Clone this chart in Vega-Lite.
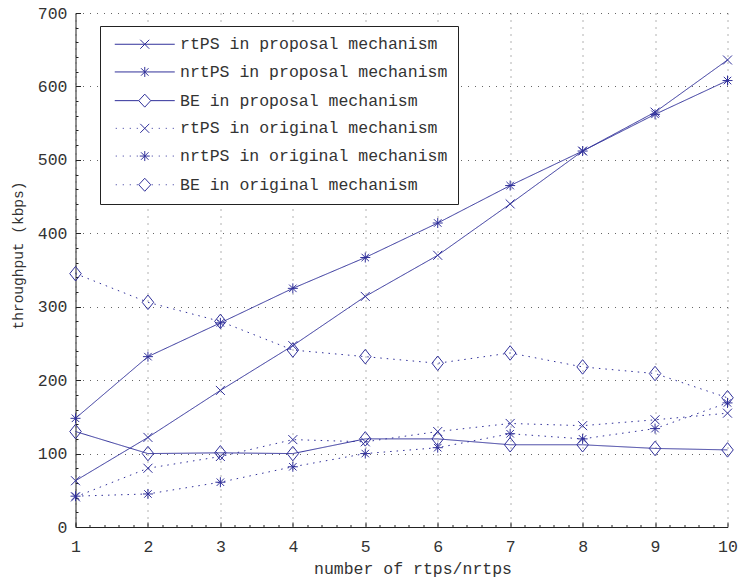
{
  "$schema": "https://vega.github.io/schema/vega-lite/v6.json",
  "width": 652,
  "height": 514,
  "autosize": {"type": "none"},
  "padding": {"left": 75.5, "top": 13, "right": 11.5, "bottom": 56},
  "background": "white",
  "config": {
    "view": {"stroke": null},
    "font": "Liberation Mono",
    "axis": {
      "labelFont": "Liberation Mono",
      "labelFontSize": 16.5,
      "labelColor": "#333333",
      "titleFont": "Liberation Mono",
      "titleFontSize": 16.5,
      "titleFontWeight": "normal",
      "titleColor": "#333333",
      "domainColor": "#222222",
      "tickColor": "#222222",
      "gridColor": "#666666",
      "gridDash": [1, 6],
      "labelOverlap": false,
      "labelFlush": false
    }
  },
  "data": {
    "values": [
      {"x": 1, "y": 63, "s": "rtPS in proposal mechanism"},
      {"x": 2, "y": 122, "s": "rtPS in proposal mechanism"},
      {"x": 3, "y": 186, "s": "rtPS in proposal mechanism"},
      {"x": 4, "y": 247, "s": "rtPS in proposal mechanism"},
      {"x": 5, "y": 314, "s": "rtPS in proposal mechanism"},
      {"x": 6, "y": 370, "s": "rtPS in proposal mechanism"},
      {"x": 7, "y": 440, "s": "rtPS in proposal mechanism"},
      {"x": 8, "y": 512, "s": "rtPS in proposal mechanism"},
      {"x": 9, "y": 565, "s": "rtPS in proposal mechanism"},
      {"x": 10, "y": 636, "s": "rtPS in proposal mechanism"},
      {"x": 1, "y": 148, "s": "nrtPS in proposal mechanism"},
      {"x": 2, "y": 232, "s": "nrtPS in proposal mechanism"},
      {"x": 3, "y": 278, "s": "nrtPS in proposal mechanism"},
      {"x": 4, "y": 325, "s": "nrtPS in proposal mechanism"},
      {"x": 5, "y": 367, "s": "nrtPS in proposal mechanism"},
      {"x": 6, "y": 414, "s": "nrtPS in proposal mechanism"},
      {"x": 7, "y": 465, "s": "nrtPS in proposal mechanism"},
      {"x": 8, "y": 512, "s": "nrtPS in proposal mechanism"},
      {"x": 9, "y": 562, "s": "nrtPS in proposal mechanism"},
      {"x": 10, "y": 608, "s": "nrtPS in proposal mechanism"},
      {"x": 1, "y": 130, "s": "BE in proposal mechanism"},
      {"x": 2, "y": 100, "s": "BE in proposal mechanism"},
      {"x": 3, "y": 101, "s": "BE in proposal mechanism"},
      {"x": 4, "y": 100, "s": "BE in proposal mechanism"},
      {"x": 5, "y": 120, "s": "BE in proposal mechanism"},
      {"x": 6, "y": 120, "s": "BE in proposal mechanism"},
      {"x": 7, "y": 112, "s": "BE in proposal mechanism"},
      {"x": 8, "y": 112, "s": "BE in proposal mechanism"},
      {"x": 9, "y": 107, "s": "BE in proposal mechanism"},
      {"x": 10, "y": 105, "s": "BE in proposal mechanism"},
      {"x": 1, "y": 41, "s": "rtPS in original mechanism"},
      {"x": 2, "y": 80, "s": "rtPS in original mechanism"},
      {"x": 3, "y": 96, "s": "rtPS in original mechanism"},
      {"x": 4, "y": 119, "s": "rtPS in original mechanism"},
      {"x": 5, "y": 116, "s": "rtPS in original mechanism"},
      {"x": 6, "y": 130, "s": "rtPS in original mechanism"},
      {"x": 7, "y": 141, "s": "rtPS in original mechanism"},
      {"x": 8, "y": 138, "s": "rtPS in original mechanism"},
      {"x": 9, "y": 146, "s": "rtPS in original mechanism"},
      {"x": 10, "y": 155, "s": "rtPS in original mechanism"},
      {"x": 1, "y": 42, "s": "nrtPS in original mechanism"},
      {"x": 2, "y": 45, "s": "nrtPS in original mechanism"},
      {"x": 3, "y": 61, "s": "nrtPS in original mechanism"},
      {"x": 4, "y": 82, "s": "nrtPS in original mechanism"},
      {"x": 5, "y": 100, "s": "nrtPS in original mechanism"},
      {"x": 6, "y": 108, "s": "nrtPS in original mechanism"},
      {"x": 7, "y": 127, "s": "nrtPS in original mechanism"},
      {"x": 8, "y": 120, "s": "nrtPS in original mechanism"},
      {"x": 9, "y": 134, "s": "nrtPS in original mechanism"},
      {"x": 10, "y": 169, "s": "nrtPS in original mechanism"},
      {"x": 1, "y": 345, "s": "BE in original mechanism"},
      {"x": 2, "y": 306, "s": "BE in original mechanism"},
      {"x": 3, "y": 280, "s": "BE in original mechanism"},
      {"x": 4, "y": 241, "s": "BE in original mechanism"},
      {"x": 5, "y": 232, "s": "BE in original mechanism"},
      {"x": 6, "y": 223, "s": "BE in original mechanism"},
      {"x": 7, "y": 237, "s": "BE in original mechanism"},
      {"x": 8, "y": 218, "s": "BE in original mechanism"},
      {"x": 9, "y": 209, "s": "BE in original mechanism"},
      {"x": 10, "y": 176, "s": "BE in original mechanism"}
    ]
  },
  "encoding": {
    "x": {
      "field": "x",
      "type": "quantitative",
      "scale": {"domain": [1, 10], "nice": false, "zero": false},
      "axis": {
        "values": [1,1.2,1.4,1.6,1.8,2,2.2,2.4,2.6,2.8,3,3.2,3.4,3.6,3.8,4,4.2,4.4,4.6,4.8,5,5.2,5.4,5.6,5.8,6,6.2,6.4,6.6,6.8,7,7.2,7.4,7.6,7.8,8,8.2,8.4,8.6,8.8,9,9.2,9.4,9.6,9.8,10],
        "labelExpr": "abs(datum.value - round(datum.value)) < 0.001 ? format(datum.value, 'd') : ''",
        "grid": true,
        "gridOpacity": {"condition": {"test": "abs(datum.value - round(datum.value)) < 0.001", "value": 1}, "value": 0},
        "tickSize": {"condition": {"test": "abs(datum.value - round(datum.value)) < 0.001", "value": -5}, "value": -2.5},
        "labelPadding": 16,
        "title": "number of rtps/nrtps",
        "titlePadding": 3,
        "titleX": 337
      }
    },
    "y": {
      "field": "y",
      "type": "quantitative",
      "scale": {"domain": [0, 700], "nice": false},
      "axis": {
        "values": [0,20,40,60,80,100,120,140,160,180,200,220,240,260,280,300,320,340,360,380,400,420,440,460,480,500,520,540,560,580,600,620,640,660,680,700],
        "labelExpr": "datum.value % 100 === 0 ? format(datum.value, 'd') : ''",
        "grid": true,
        "gridOpacity": {"condition": {"test": "datum.value % 100 === 0", "value": 1}, "value": 0},
        "tickSize": {"condition": {"test": "datum.value % 100 === 0", "value": -5}, "value": -2.5},
        "labelPadding": 13.5,
        "title": "throughput (kbps)",
        "titleFontSize": 14.5,
        "titlePadding": 12,
        "titleY": 242
      }
    }
  },
  "layer": [
    {
      "mark": {"type": "line", "color": "#30309a", "strokeWidth": 1},
      "encoding": {
        "detail": {"field": "s", "type": "nominal"},
        "strokeDash": {
          "field": "s",
          "type": "nominal",
          "scale": {
            "domain": ["rtPS in proposal mechanism", "nrtPS in proposal mechanism", "BE in proposal mechanism", "rtPS in original mechanism", "nrtPS in original mechanism", "BE in original mechanism"],
            "range": [[1, 0], [1, 0], [1, 0], [1.5, 5], [1.5, 5], [1.5, 5]]
          },
          "legend": null
        }
      }
    },
    {
      "mark": {"type": "point", "filled": false, "color": "#30309a", "size": 100, "strokeWidth": 1, "opacity": 1},
      "encoding": {
        "shape": {
          "field": "s",
          "type": "nominal",
          "scale": {
            "domain": ["rtPS in proposal mechanism", "nrtPS in proposal mechanism", "BE in proposal mechanism", "rtPS in original mechanism", "nrtPS in original mechanism", "BE in original mechanism"],
            "range": [
              "M-0.9,-0.9L0.9,0.9M-0.9,0.9L0.9,-0.9",
              "M-1,0L1,0M0,-1L0,1M-0.75,-0.75L0.75,0.75M-0.75,0.75L0.75,-0.75",
              "M0,-1.45L1.15,0L0,1.45L-1.15,0Z",
              "M-0.9,-0.9L0.9,0.9M-0.9,0.9L0.9,-0.9",
              "M-1,0L1,0M0,-1L0,1M-0.75,-0.75L0.75,0.75M-0.75,0.75L0.75,-0.75",
              "M0,-1.45L1.15,0L0,1.45L-1.15,0Z"
            ]
          },
          "legend": null
        }
      }
    },
    {
      "mark": {"type": "point", "filled": false, "color": "#30309a", "size": 100, "strokeWidth": 1, "opacity": 0},
      "encoding": {
        "shape": {
          "field": "s",
          "type": "nominal",
          "scale": {
            "domain": ["rtPS in proposal mechanism", "nrtPS in proposal mechanism", "BE in proposal mechanism", "rtPS in original mechanism", "nrtPS in original mechanism", "BE in original mechanism"],
            "range": [
              "M-6,0L6,0M-0.9,-0.9L0.9,0.9M-0.9,0.9L0.9,-0.9",
              "M-6,0L6,0M0,-1L0,1M-0.75,-0.75L0.75,0.75M-0.75,0.75L0.75,-0.75",
              "M-6,0L-1.2,0M1.2,0L6,0M0,-1.3L1.2,0L0,1.3L-1.2,0Z",
              "M-5.8,0L-5.6,0M-4.4,0L-4.2,0M-3,0L-2.8,0M-1.6,0L-1.4,0M1.4,0L1.6,0M2.8,0L3,0M4.2,0L4.4,0M5.6,0L5.8,0M-0.9,-0.9L0.9,0.9M-0.9,0.9L0.9,-0.9",
              "M-5.8,0L-5.6,0M-4.4,0L-4.2,0M-3,0L-2.8,0M-1.6,0L-1.4,0M1.4,0L1.6,0M2.8,0L3,0M4.2,0L4.4,0M5.6,0L5.8,0M-1,0L1,0M0,-1L0,1M-0.75,-0.75L0.75,0.75M-0.75,0.75L0.75,-0.75",
              "M-5.8,0L-5.6,0M-4.4,0L-4.2,0M-3,0L-2.8,0M-1.6,0L-1.4,0M1.4,0L1.6,0M2.8,0L3,0M4.2,0L4.4,0M5.6,0L5.8,0M0,-1.3L1.2,0L0,1.3L-1.2,0Z"
            ]
          },
          "legend": {
            "orient": "none",
            "legendX": 24.5,
            "legendY": 13,
            "title": null,
            "symbolSize": 100,
            "symbolStrokeColor": "#30309a",
            "symbolFillColor": "transparent",
            "symbolStrokeWidth": 1,
            "symbolOpacity": 1,
            "symbolOffset": 26.5,
            "labelOffset": 27,
            "labelFont": "Liberation Mono",
            "labelFontSize": 16.5,
            "labelColor": "#333333",
            "labelLimit": 400,
            "rowPadding": 10.7,
            "padding": 10,
            "strokeColor": "#222222",
            "fillColor": "white"
          }
        }
      }
    }
  ],
  "resolve": {"scale": {"shape": "independent"}}
}
